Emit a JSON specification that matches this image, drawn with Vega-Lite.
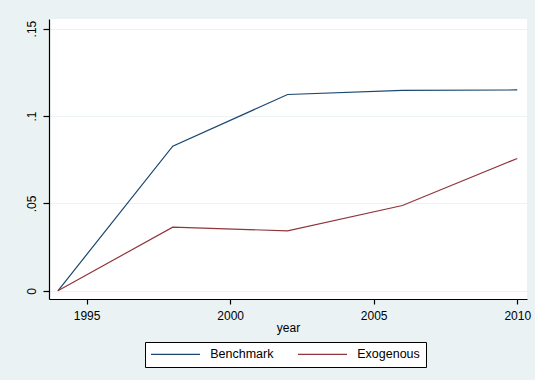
{
  "$schema": "https://vega.github.io/schema/vega-lite/v6.json",
  "autosize": {"type": "none"},
  "padding": {"left": 49, "top": 19, "right": 8, "bottom": 81},
  "width": 478,
  "height": 280,
  "background": "#EAF2F3",
  "config": {
    "font": "Liberation Sans",
    "view": {"fill": "white", "stroke": null},
    "axis": {
      "domainColor": "black",
      "domainWidth": 1.2,
      "tickColor": "black",
      "tickWidth": 1.2,
      "labelColor": "black",
      "titleColor": "black",
      "labelFontSize": 12,
      "titleFontSize": 12,
      "titleFontWeight": "normal",
      "gridColor": "#EAF2F3",
      "gridWidth": 1,
      "gridOpacity": 1
    }
  },
  "data": {
    "values": [
      {"series": "Benchmark", "year": 1994, "value": 0},
      {"series": "Benchmark", "year": 1998, "value": 0.0827},
      {"series": "Benchmark", "year": 2002, "value": 0.1123},
      {"series": "Benchmark", "year": 2006, "value": 0.1147},
      {"series": "Benchmark", "year": 2010, "value": 0.1149},
      {"series": "Exogenous", "year": 1994, "value": 0},
      {"series": "Exogenous", "year": 1998, "value": 0.0364},
      {"series": "Exogenous", "year": 2002, "value": 0.0343},
      {"series": "Exogenous", "year": 2006, "value": 0.0488},
      {"series": "Exogenous", "year": 2010, "value": 0.0757}
    ]
  },
  "mark": {"type": "line", "strokeWidth": 1.2, "clip": true},
  "encoding": {
    "x": {
      "field": "year",
      "type": "quantitative",
      "scale": {"domain": [1993.69, 2010.34], "nice": false, "zero": false},
      "axis": {
        "values": [1995, 2000, 2005, 2010],
        "format": "d",
        "grid": false,
        "tickSize": 5,
        "labelPadding": 6,
        "title": "year",
        "titlePadding": 1
      }
    },
    "y": {
      "field": "value",
      "type": "quantitative",
      "scale": {"domain": [-0.0047, 0.1555], "nice": false, "zero": false},
      "axis": {
        "values": [0, 0.05, 0.1, 0.15],
        "labelExpr": "datum.value == 0 ? '0' : replace(toString(datum.value), '0.', '.')",
        "labelAngle": 270,
        "labelAlign": "center",
        "labelBaseline": "bottom",
        "tickSize": 6,
        "labelPadding": 5,
        "grid": true,
        "title": null
      }
    },
    "color": {
      "field": "series",
      "type": "nominal",
      "scale": {"domain": ["Benchmark", "Exogenous"], "range": ["#1A476F", "#90353B"]},
      "legend": {
        "title": null,
        "orient": "none",
        "legendX": 96,
        "legendY": 323,
        "direction": "horizontal",
        "symbolType": "M-5,0H5",
        "symbolSize": 96,
        "symbolOffset": 18.25,
        "symbolStrokeWidth": 1.2,
        "labelFontSize": 12.5,
        "labelColor": "black",
        "labelOffset": 28.5,
        "columnPadding": 21,
        "padding": 6,
        "fillColor": "white",
        "strokeColor": "black"
      }
    }
  }
}
